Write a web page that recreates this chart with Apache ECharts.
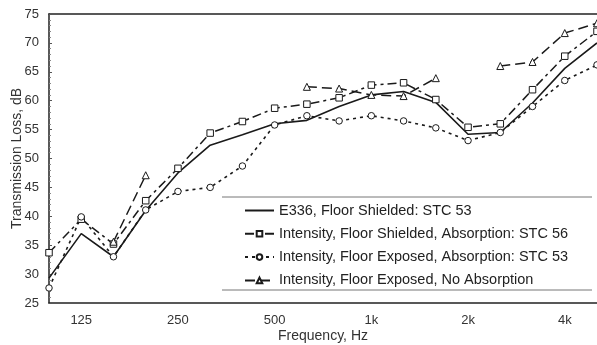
<!DOCTYPE html>
<html>
<head>
<meta charset="utf-8">
<script src="https://cdn.jsdelivr.net/npm/echarts@6/dist/echarts.min.js"></script>
<style>
html,body{margin:0;padding:0;background:#fff;}
#c{width:597px;height:345px;}
</style>
</head>
<body>
<div id="c"></div>
<script>
// Third-octave band centre frequencies (Hz)
var freqs = ['100','125','160','200','250','315','400','500','630','800','1000','1250','1600','2000','2500','3150','4000','5000'];
// Tick labels shown on the frequency axis
var tickFreqs = ['125','250','500','1000','2000','4000'];
var tickTexts = ['125','250','500','1k','2k','4k'];

var seriesNames = [
  'E336, Floor Shielded: STC 53',
  'Intensity, Floor Shielded, Absorption: STC 56',
  'Intensity, Floor Exposed, Absorption: STC 53',
  'Intensity, Floor Exposed, No Absorption'
];
var e336 = [29.3, 37.0, 33.0, 41.0, 47.5, 52.3, 54.1, 56.0, 56.6, 59.0, 61.0, 61.6, 59.7, 54.2, 54.5, 59.6, 65.6, 70.0];
var shieldedAbs = [33.7, 39.5, 35.2, 42.7, 48.3, 54.4, 56.4, 58.7, 59.4, 60.5, 62.7, 63.1, 60.2, 55.4, 56.0, 61.9, 67.7, 72.0];
var exposedAbs = [27.6, 39.9, 33.0, 41.1, 44.3, 45.0, 48.7, 55.8, 57.4, 56.5, 57.4, 56.5, 55.3, 53.1, 54.5, 59.0, 63.5, 66.2];
var exposedNoAbs = [null, null, 35.6, 47.1, null, null, null, null, 62.4, 62.1, 61.0, 60.8, 63.9, null, 66.0, 66.7, 71.7, 73.4];

var ink = '#1a1a1a';
var font = 'Liberation Sans, Arial, sans-serif';
var chart = echarts.init(document.getElementById('c'), null, {renderer: 'canvas'});

function mk(name, data, dash, symbol, size, width) {
  return {
    name: name,
    type: 'line',
    data: data,
    symbol: symbol,
    symbolSize: size,
    showSymbol: symbol !== 'none',
    connectNulls: false,
    z: symbol === 'none' ? 3 : 4,
    lineStyle: {color: ink, width: width, type: dash},
    itemStyle: {color: '#fff', borderColor: ink, borderWidth: 1},
    emphasis: {disabled: true},
    animation: false
  };
}

chart.setOption({
  backgroundColor: '#fff',
  animation: false,
  grid: {left: 49, right: 0, top: 14, bottom: 42, containLabel: false, outerBoundsMode: 'none'},
  legend: {
    orient: 'vertical',
    left: 239,
    top: 198,
    padding: 5,
    itemWidth: 29,
    itemHeight: 7,
    itemGap: 8.3,
    textStyle: {fontFamily: font, fontSize: 14.5, color: '#222'},
    data: [
      {name: seriesNames[0], itemStyle: {opacity: 0}},
      {name: seriesNames[1]},
      {name: seriesNames[2]},
      {name: seriesNames[3]}
    ],
    selectedMode: false
  },
  xAxis: [{
    type: 'category',
    data: freqs,
    boundaryGap: false,
    name: 'Frequency, Hz',
    nameLocation: 'middle',
    nameGap: 26,
    nameMoveOverlap: false,
    nameTextStyle: {fontFamily: font, fontSize: 14, color: '#333'},
    axisLine: {lineStyle: {color: '#222', width: 1.5}},
    axisTick: {show: false},
    axisLabel: {
      interval: 0,
      margin: 11,
      fontFamily: font,
      fontSize: 13,
      color: '#333',
      formatter: function (v) { var i = tickFreqs.indexOf(v); return i >= 0 ? tickTexts[i] : ''; }
    },
    splitLine: {show: false}
  }, {
    type: 'category',
    data: freqs,
    boundaryGap: false,
    position: 'top',
    axisLine: {lineStyle: {color: '#222', width: 1.5}},
    axisTick: {show: false},
    axisLabel: {show: false},
    splitLine: {show: false}
  }],
  yAxis: {
    type: 'value',
    min: 25,
    max: 75,
    interval: 5,
    name: 'Transmission Loss, dB',
    nameLocation: 'middle',
    nameGap: 25,
    nameMoveOverlap: false,
    nameTextStyle: {fontFamily: font, fontSize: 14, color: '#333'},
    axisLine: {show: true, lineStyle: {color: '#222', width: 1.5}},
    axisTick: {show: true, inside: true, length: 3, lineStyle: {color: '#555'}},
    minorTick: {show: true, splitNumber: 5, length: 2, lineStyle: {color: '#888'}},
    axisLabel: {margin: 10, fontFamily: font, fontSize: 13, color: '#333'},
    splitLine: {show: false}
  },
  graphic: [
    {type: 'line', shape: {x1: 222, y1: 197, x2: 592, y2: 197}, style: {stroke: '#777', lineWidth: 1}},
    {type: 'line', shape: {x1: 222, y1: 290, x2: 592, y2: 290}, style: {stroke: '#777', lineWidth: 1}}
  ],
  series: [
    mk(seriesNames[0], e336, 'solid', 'none', 0, 1.6),
    mk(seriesNames[1], shieldedAbs, [9, 4, 3, 4], 'rect', 6.5, 1.5),
    mk(seriesNames[2], exposedAbs, [3, 4], 'circle', 6.5, 1.6),
    mk(seriesNames[3], exposedNoAbs, [10, 5], 'triangle', 7, 1.5)
  ]
});
</script>
</body>
</html>
